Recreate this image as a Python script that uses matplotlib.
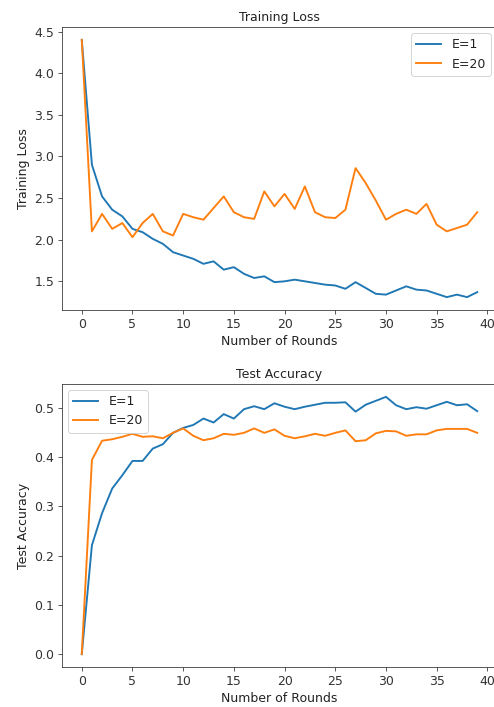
import numpy as np
import matplotlib
matplotlib.use("Agg")
import matplotlib.pyplot as plt

rounds = np.arange(40)

# training loss per round
loss_e1 = [4.40, 2.90, 2.52, 2.36, 2.28, 2.13, 2.09, 2.01, 1.95, 1.85,
           1.81, 1.77, 1.71, 1.74, 1.64, 1.67, 1.59, 1.54, 1.56, 1.49,
           1.50, 1.52, 1.50, 1.48, 1.46, 1.45, 1.41, 1.49, 1.42, 1.35,
           1.34, 1.39, 1.44, 1.40, 1.39, 1.35, 1.31, 1.34, 1.31, 1.37]
loss_e20 = [4.40, 2.10, 2.31, 2.13, 2.20, 2.03, 2.20, 2.31, 2.10, 2.05,
            2.31, 2.27, 2.24, 2.38, 2.52, 2.33, 2.27, 2.25, 2.58, 2.40,
            2.55, 2.37, 2.64, 2.33, 2.27, 2.26, 2.36, 2.86, 2.68, 2.47,
            2.24, 2.31, 2.36, 2.31, 2.43, 2.18, 2.10, 2.14, 2.18, 2.33]

# test accuracy per round
acc_e1 = [0.000, 0.221, 0.286, 0.336, 0.363, 0.392, 0.392, 0.417, 0.426, 0.449,
          0.459, 0.465, 0.478, 0.470, 0.487, 0.478, 0.497, 0.503, 0.497, 0.509,
          0.502, 0.497, 0.502, 0.506, 0.510, 0.510, 0.511, 0.492, 0.506, 0.514,
          0.522, 0.505, 0.497, 0.501, 0.498, 0.505, 0.512, 0.505, 0.507, 0.493]
acc_e20 = [0.000, 0.394, 0.433, 0.436, 0.441, 0.447, 0.441, 0.442, 0.438, 0.449,
           0.458, 0.443, 0.434, 0.438, 0.447, 0.445, 0.449, 0.458, 0.449, 0.456,
           0.443, 0.438, 0.442, 0.447, 0.443, 0.449, 0.454, 0.432, 0.434, 0.448,
           0.453, 0.452, 0.443, 0.446, 0.446, 0.454, 0.457, 0.457, 0.457, 0.449]

# the reference looks like a notebook figure blown up ~1.25x
plt.rcParams.update({
    "font.size": 12.5,
    "axes.titlesize": 12.5,
    "lines.linewidth": 1.9,
    "xtick.major.size": 4.4,
    "ytick.major.size": 4.4,
    "axes.edgecolor": "#333333",
    "xtick.color": "#333333",
    "ytick.color": "#333333",
    "text.color": "#222222",
    "axes.labelcolor": "#222222",
})

fig = plt.figure(figsize=(494 / 72, 707 / 72), dpi=72)

# top: training loss
ax1 = fig.add_axes([62 / 494, 1 - 310 / 707, 435 / 494, 283 / 707])
ax1.plot(rounds, loss_e1, label="E=1")
ax1.plot(rounds, loss_e20, label="E=20")
ax1.set_title("Training Loss", pad=6)
ax1.set_xlabel("Number of Rounds", labelpad=4)
ax1.set_ylabel("Training Loss")
ax1.legend(loc="upper right")

# bottom: test accuracy
ax2 = fig.add_axes([62 / 494, 1 - 667 / 707, 435 / 494, 283 / 707])
ax2.plot(rounds, acc_e1, label="E=1")
ax2.plot(rounds, acc_e20, label="E=20")
ax2.set_title("Test Accuracy", pad=6)
ax2.set_xlabel("Number of Rounds", labelpad=4)
ax2.set_ylabel("Test Accuracy")
ax2.legend(loc="upper left")

fig.savefig("out.png", dpi=72)
